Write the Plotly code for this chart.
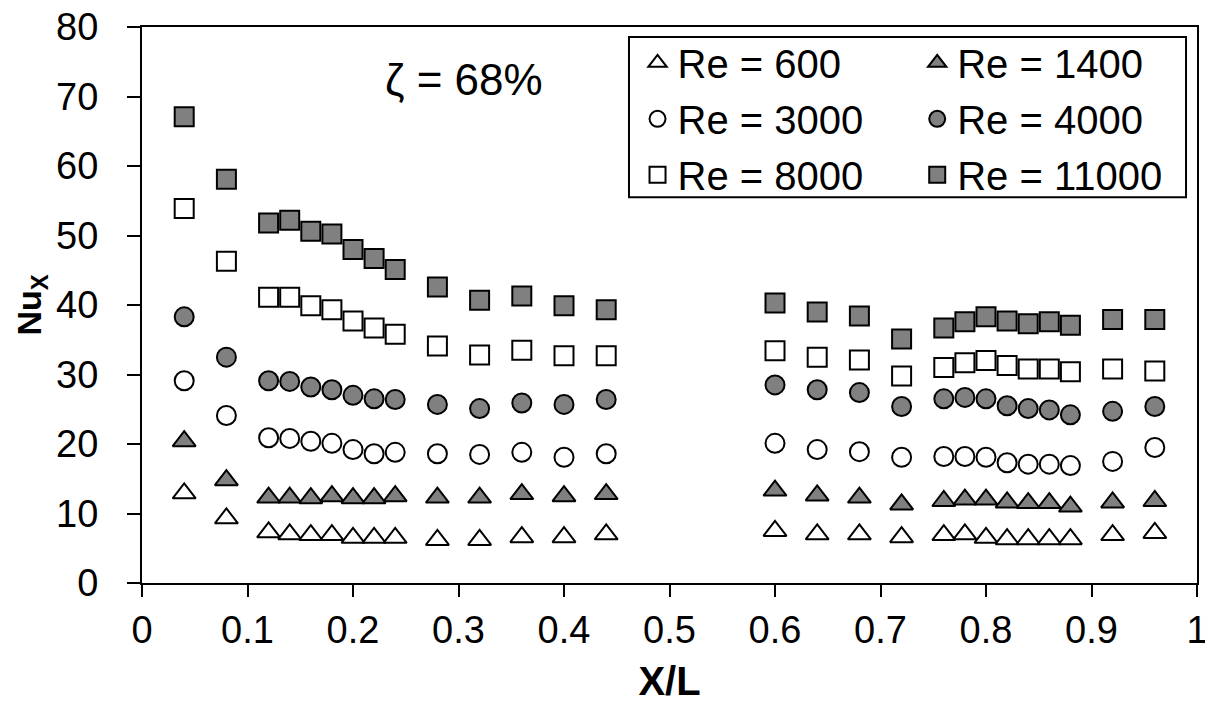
import plotly.graph_objects as go

x_pos = [0.04, 0.08, 0.12, 0.14, 0.16, 0.18, 0.20, 0.22, 0.24, 0.28, 0.32, 0.36, 0.40, 0.44,
         0.60, 0.64, 0.68, 0.72, 0.76, 0.78, 0.80, 0.82, 0.84, 0.86, 0.88, 0.92, 0.96]

nu_re600 = [12.9, 9.3, 7.3, 7.0, 6.9, 6.9, 6.5, 6.5, 6.5, 6.2, 6.2, 6.6, 6.6, 7.0,
            7.5, 7.0, 7.0, 6.6, 6.9, 7.0, 6.5, 6.3, 6.3, 6.3, 6.3, 6.9, 7.2]
nu_re1400 = [20.4, 14.8, 12.3, 12.3, 12.2, 12.5, 12.2, 12.2, 12.5, 12.3, 12.3, 12.8, 12.5, 12.8,
             13.3, 12.6, 12.3, 11.3, 11.8, 12.0, 12.0, 11.6, 11.5, 11.5, 11.0, 11.6, 11.8]
nu_re3000 = [29.1, 24.1, 20.9, 20.8, 20.4, 20.1, 19.2, 18.6, 18.8, 18.6, 18.5, 18.8, 18.1, 18.6,
             20.1, 19.2, 18.9, 18.1, 18.2, 18.2, 18.1, 17.3, 17.1, 17.1, 16.9, 17.5, 19.5]
nu_re4000 = [38.3, 32.5, 29.1, 29.0, 28.2, 27.8, 27.0, 26.5, 26.4, 25.7, 25.1, 25.9, 25.7, 26.4,
             28.5, 27.8, 27.4, 25.4, 26.5, 26.7, 26.5, 25.5, 25.1, 24.9, 24.2, 24.7, 25.4]
nu_re8000 = [53.9, 46.3, 41.1, 41.1, 39.9, 39.3, 37.7, 36.7, 35.8, 34.1, 32.8, 33.5, 32.7, 32.7,
             33.4, 32.5, 32.1, 29.8, 31.0, 31.7, 32.0, 31.3, 30.8, 30.8, 30.4, 30.8, 30.5]
nu_re11000 = [67.1, 58.1, 51.8, 52.2, 50.6, 50.2, 48.0, 46.7, 45.1, 42.6, 40.7, 41.3, 39.9, 39.3,
              40.3, 39.0, 38.4, 35.1, 36.7, 37.6, 38.3, 37.7, 37.3, 37.6, 37.1, 37.9, 37.9]

x_ticks = [0, 0.1, 0.2, 0.3, 0.4, 0.5, 0.6, 0.7, 0.8, 0.9, 1]
x_tick_labels = ["0", "0.1", "0.2", "0.3", "0.4", "0.5", "0.6", "0.7", "0.8", "0.9", "1"]
y_ticks = [0, 10, 20, 30, 40, 50, 60, 70, 80]

GRAY = "#808080"
FONT = "Liberation Sans, Arial, sans-serif"

series = [
    ("Re = 600", nu_re600, "triangle-up", "white", 20, "legend"),
    ("Re = 3000", nu_re3000, "circle", "white", 19, "legend"),
    ("Re = 8000", nu_re8000, "square", "white", 19, "legend"),
    ("Re = 1400", nu_re1400, "triangle-up", GRAY, 20, "legend2"),
    ("Re = 4000", nu_re4000, "circle", GRAY, 19, "legend2"),
    ("Re = 11000", nu_re11000, "square", GRAY, 19, "legend2"),
]

fig = go.Figure()
for name, vals, sym, fill, size, leg in series:
    fig.add_trace(go.Scatter(
        x=x_pos, y=vals, mode="markers", name=name, legend=leg, legendgroup=name,
        marker=dict(symbol=sym, size=size, color=fill, line=dict(color="black", width=2)),
    ))

legend_common = dict(
    font=dict(family=FONT, size=40, color="black"),
    bgcolor="rgba(0,0,0,0)", borderwidth=0, tracegroupgap=1,
    xanchor="left", yanchor="top", itemsizing="trace",
)

# the page body has an 8px margin on every side, so the figure is 16px smaller
fig.update_layout(
    width=1197, height=695,
    margin=dict(l=134, r=8, t=19, b=120, autoexpand=False),
    paper_bgcolor="white", plot_bgcolor="white",
    font=dict(family=FONT, color="black"),
    legend=dict(x=0.4697, y=0.994, **legend_common),
    legend2=dict(x=0.7348, y=0.994, **legend_common),
    xaxis=dict(
        range=[0, 1], tickvals=x_ticks, ticktext=x_tick_labels,
        showline=True, linecolor="black", linewidth=2, mirror=True,
        ticks="outside", ticklen=12, tickwidth=2, tickcolor="black",
        showgrid=False, zeroline=False, automargin=False,
        tickfont=dict(family=FONT, size=38, color="black"),
        ticklabelstandoff=0, ticklabeloverflow="allow",
        title=dict(text="<b>X/L</b>", font=dict(family=FONT, size=40, color="black"), standoff=18),
    ),
    yaxis=dict(
        range=[0, 80], tickvals=y_ticks,
        showline=True, linecolor="black", linewidth=2, mirror=True,
        ticks="outside", ticklen=13, tickwidth=2, tickcolor="black",
        showgrid=False, zeroline=False, automargin=False,
        tickfont=dict(family=FONT, size=38, color="black"),
        ticklabelstandoff=21, ticklabeloverflow="allow",
        title=dict(text="<b>Nu<sub>X</sub></b>", font=dict(family=FONT, size=34, color="black"), standoff=4),
    ),
    shapes=[dict(type="rect", xref="paper", yref="paper",
                 x0=0.4616, x1=0.9896, y0=0.694, y1=0.982,
                 line=dict(color="black", width=2), fillcolor="rgba(0,0,0,0)")],
    annotations=[dict(text="ζ = 68%", xref="paper", yref="paper", x=0.305, y=0.905,
                      xanchor="center", yanchor="middle", showarrow=False,
                      font=dict(family=FONT, size=44, color="black"))],
)

fig.write_html("out.html")
